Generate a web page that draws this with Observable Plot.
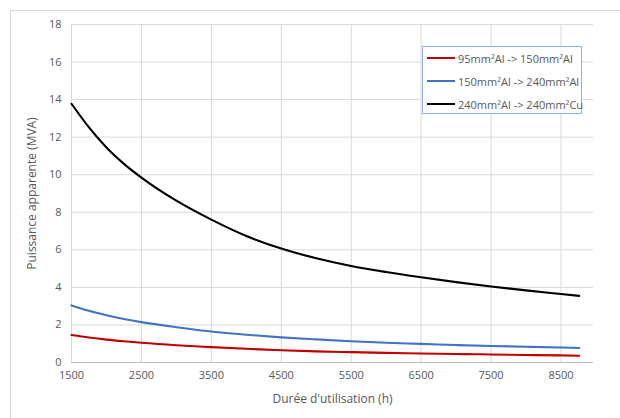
<!DOCTYPE html>
<html>
<head>
<meta charset="utf-8">
<script src="https://cdn.jsdelivr.net/npm/d3@7"></script>
<script src="https://cdn.jsdelivr.net/npm/@observablehq/plot@0.6"></script>
<style>
  html, body { margin: 0; padding: 0; background: #fff; overflow: hidden; }
  #wrap { position: relative; width: 620px; height: 418px; font-family: "Open Sans", "Noto Sans", sans-serif; }
  #border { position: absolute; left: 10px; top: 10px; width: 640px; height: 440px; border: 1px solid #d9d9d9; box-sizing: border-box; pointer-events: none; }
  #legend { position: absolute; left: 422px; top: 46px; width: 160px; height: 68px; border: 1px solid #8fb4e3; box-sizing: border-box; background: #fff; font-size: 11px; color: #595959; }
  .row { position: absolute; left: 4px; height: 14px; display: flex; align-items: center; white-space: nowrap; }
  .sw { width: 28px; height: 2px; margin-right: 3px; }
</style>
</head>
<body>
<div id="wrap">
  <div id="chart"></div>
  <div id="border"></div>
  <div id="legend"></div>
</div>
<script>
const hours = [1500, 1750, 2000, 2250, 2500, 3000, 3500, 4000, 4500, 5000, 5500, 6000, 6500, 7000, 7500, 8000, 8500, 8760];
const seriesNames = ["95mm²Al -> 150mm²Al", "150mm²Al -> 240mm²Al", "240mm²Al -> 240mm²Cu"];
const seriesColors = ["#c00000", "#4472c4", "#000000"];
const red95 = [1.46, 1.33, 1.22, 1.13, 1.05, 0.92, 0.82, 0.73, 0.65, 0.59, 0.55, 0.51, 0.48, 0.45, 0.43, 0.40, 0.38, 0.36];
const blue150 = [3.04, 2.75, 2.52, 2.32, 2.15, 1.88, 1.65, 1.48, 1.34, 1.23, 1.13, 1.05, 0.99, 0.93, 0.88, 0.84, 0.80, 0.77];
const black240 = [13.78, 12.52, 11.45, 10.58, 9.85, 8.62, 7.61, 6.74, 6.07, 5.55, 5.14, 4.82, 4.54, 4.28, 4.05, 3.84, 3.65, 3.55];
const xTicks = [1500, 2500, 3500, 4500, 5500, 6500, 7500, 8500];
const yTicks = [0, 2, 4, 6, 8, 10, 12, 14, 16, 18];

const valuesList = [red95, blue150, black240];
const data = [];
valuesList.forEach((vals, si) => vals.forEach((v, i) => data.push({series: seriesNames[si], h: hours[i], v})));

const chart = Plot.plot({
  width: 620,
  height: 418,
  marginLeft: 71,
  marginRight: 27,
  marginTop: 24,
  marginBottom: 56,
  style: {fontFamily: "'Open Sans', 'Noto Sans', sans-serif", fontSize: "11px", color: "#595959", background: "#fff"},
  x: {domain: [1500, 8965], ticks: xTicks, tickFormat: d => String(d), label: null},
  y: {domain: [0, 18], ticks: yTicks, label: null},
  color: {domain: seriesNames, range: seriesColors},
  marks: [
    Plot.gridX(xTicks, {stroke: "#d9d9d9", strokeOpacity: 1}),
    Plot.gridY(yTicks, {stroke: "#d9d9d9", strokeOpacity: 1}),
    Plot.ruleY([0], {stroke: "#bfbfbf"}),
    Plot.axisX({ticks: xTicks, tickSize: 0, tickPadding: 9, tickFormat: d => String(d), fill: "#595959", fontSize: 11,
      label: "Durée d'utilisation (h)", labelAnchor: "center", labelArrow: "none", labelOffset: 40}),
    Plot.axisY({ticks: yTicks, tickSize: 0, tickPadding: 10, fill: "#595959", fontSize: 11,
      label: "Puissance apparente (MVA)", labelAnchor: "center", labelArrow: "none", labelOffset: 44}),
    Plot.line(data, {x: "h", y: "v", z: "series", stroke: "series", strokeWidth: 2.1, curve: "monotone-x"})
  ]
});
document.getElementById("chart").appendChild(chart);
chart.querySelectorAll("g[aria-label='x-axis label'] text, g[aria-label='y-axis label'] text").forEach(t => t.setAttribute("font-size", "12"));

const legend = document.getElementById("legend");
seriesNames.forEach((name, i) => {
  const row = document.createElement("div");
  row.className = "row";
  row.style.top = (4 + i * 23) + "px";
  row.innerHTML = `<div class="sw" style="background:${seriesColors[i]}"></div><span>${name}</span>`;
  legend.appendChild(row);
});
</script>
</body>
</html>
